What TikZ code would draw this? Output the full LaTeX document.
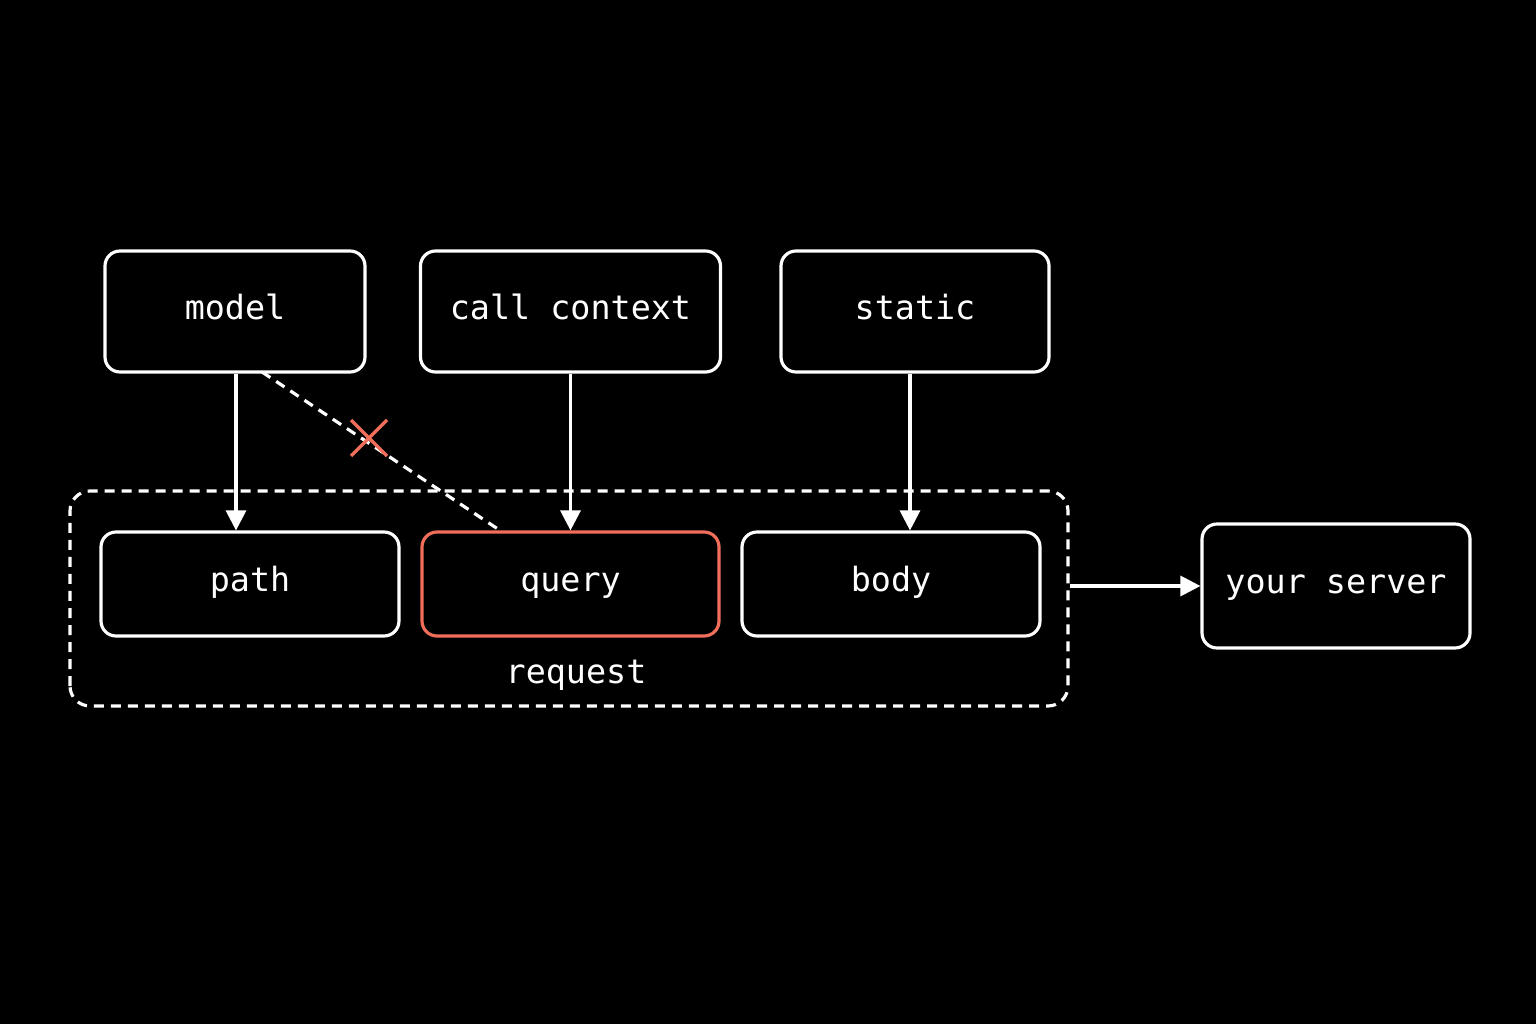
\documentclass[tikz,border=0pt]{standalone}
\usepackage{fontspec}
\setmonofont{DejaVu Sans Mono}
\usepackage{tikz}
\usetikzlibrary{arrows.meta,calc}
\definecolor{warn}{RGB}{240,110,90}
\tikzset{
  box/.style={draw=white, line width=0.9pt, rounded corners=0.15cm, fill=black,
    text=white, font=\ttfamily\fontsize{9.5}{11}\selectfont, inner sep=0pt,
    text height=1.5ex, text depth=0.45ex},
  flow/.style={draw=white, line width=0.9pt, -{Triangle[length=0.2cm,width=0.2cm]}}
}
\begin{document}
\begin{tikzpicture}
\fill[black] (0,0) rectangle (15.36,10.24);
\useasboundingbox (0,0) rectangle (15.36,10.24);

% container
\draw[white, line width=0.9pt, dash pattern=on 0.1cm off 0.07cm, rounded corners=0.2cm] (0.70,3.18) rectangle (10.68,5.33);
\coordinate (reqout) at (10.70,4.38);
\node[text=white, font=\ttfamily\fontsize{9.5}{11}\selectfont] (request) at (5.76,3.49) {request};

% sources
\node[box, minimum width=2.6cm, minimum height=1.21cm] (model) at (2.35,7.125) {model};
\node[box, minimum width=3.0cm, minimum height=1.21cm] (callctx) at (5.705,7.125) {call context};
\node[box, minimum width=2.68cm, minimum height=1.21cm] (static) at (9.15,7.125) {static};

% request parts
\node[box, minimum width=2.98cm, minimum height=1.04cm] (path) at (2.5,4.4) {path};
\node[box, draw=warn, minimum width=2.97cm, minimum height=1.04cm] (query) at (5.705,4.4) {query};
\node[box, minimum width=2.98cm, minimum height=1.04cm] (body) at (8.91,4.4) {body};

\node[box, minimum width=2.68cm, minimum height=1.24cm] (server) at (13.36,4.38) {your server};

\draw[flow] (model.south -| 2.36,0) -- (path.north -| 2.36,0);
\draw[flow] (callctx.south) -- (query.north);
\draw[flow] (static.south -| 9.10,0) -- (body.north -| 9.10,0);
\draw[flow] (reqout) -- (server.west);

% rejected link
\draw[white, line width=0.9pt, dash pattern=on 0.1cm off 0.07cm] (2.62,6.52) -- (query.north -| 5.0,0);
\coordinate (cross) at (3.69,5.86);
\draw[warn, line width=1pt] ($(cross)+(-0.18,-0.18)$) -- ($(cross)+(0.18,0.18)$);
\draw[warn, line width=1pt] ($(cross)+(-0.18,0.18)$) -- ($(cross)+(0.18,-0.18)$);
\end{tikzpicture}
\end{document}
